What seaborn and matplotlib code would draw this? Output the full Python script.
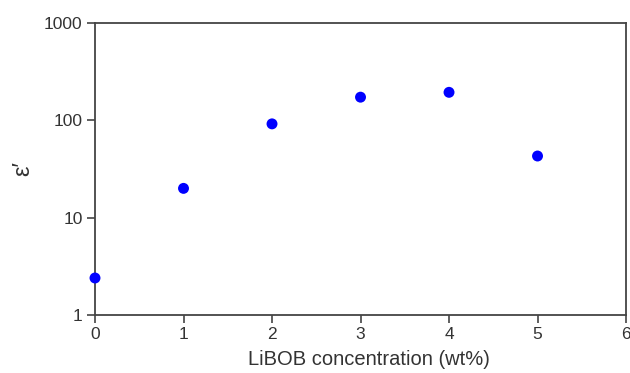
import matplotlib
matplotlib.use('Agg')
import matplotlib.pyplot as plt
import seaborn as sns
import pandas as pd
from matplotlib.ticker import FixedLocator, NullLocator, FixedFormatter

# 数据
concentration = [0, 1, 2, 3, 4, 5]
permittivity = [2.4, 20, 92, 173, 194, 43]

sns.set_style('ticks')
plt.rcParams['font.family'] = ['Liberation Sans', 'DejaVu Sans']

df = pd.DataFrame({'conc': concentration, 'eps': permittivity})

fig = plt.figure(figsize=(6.3, 3.73), dpi=100)
ax = fig.add_axes([0.1508, 0.1555, 0.8429, 0.7828])

sns.scatterplot(data=df, x='conc', y='eps', ax=ax, color='#0000ff',
                s=62, edgecolor='none', linewidth=0, clip_on=False, zorder=3)

ax.set_yscale('log')
ax.set_xlim(0, 6)
ax.set_ylim(1, 1000)
ax.yaxis.set_major_locator(FixedLocator([1, 10, 100, 1000]))
ax.yaxis.set_major_formatter(FixedFormatter(['1', '10', '100', '1000']))
ax.yaxis.set_minor_locator(NullLocator())
ax.set_xticks(range(7))

for sp in ax.spines.values():
    sp.set_color('#444444')
    sp.set_linewidth(1.3)
ax.tick_params(axis='both', direction='out', length=6, width=1.2,
               color='#444444', labelsize=12.5, labelcolor='#333333', pad=3)

ax.set_xlabel('LiBOB concentration (wt%)', fontsize=14.5, color='#333333')
ax.xaxis.set_label_coords(0.516, -0.12)
ax.set_ylabel('ε′', fontsize=17, color='#333333')
ax.yaxis.set_label_coords(-0.115, 0.5)

fig.savefig('out.png', dpi=100)
